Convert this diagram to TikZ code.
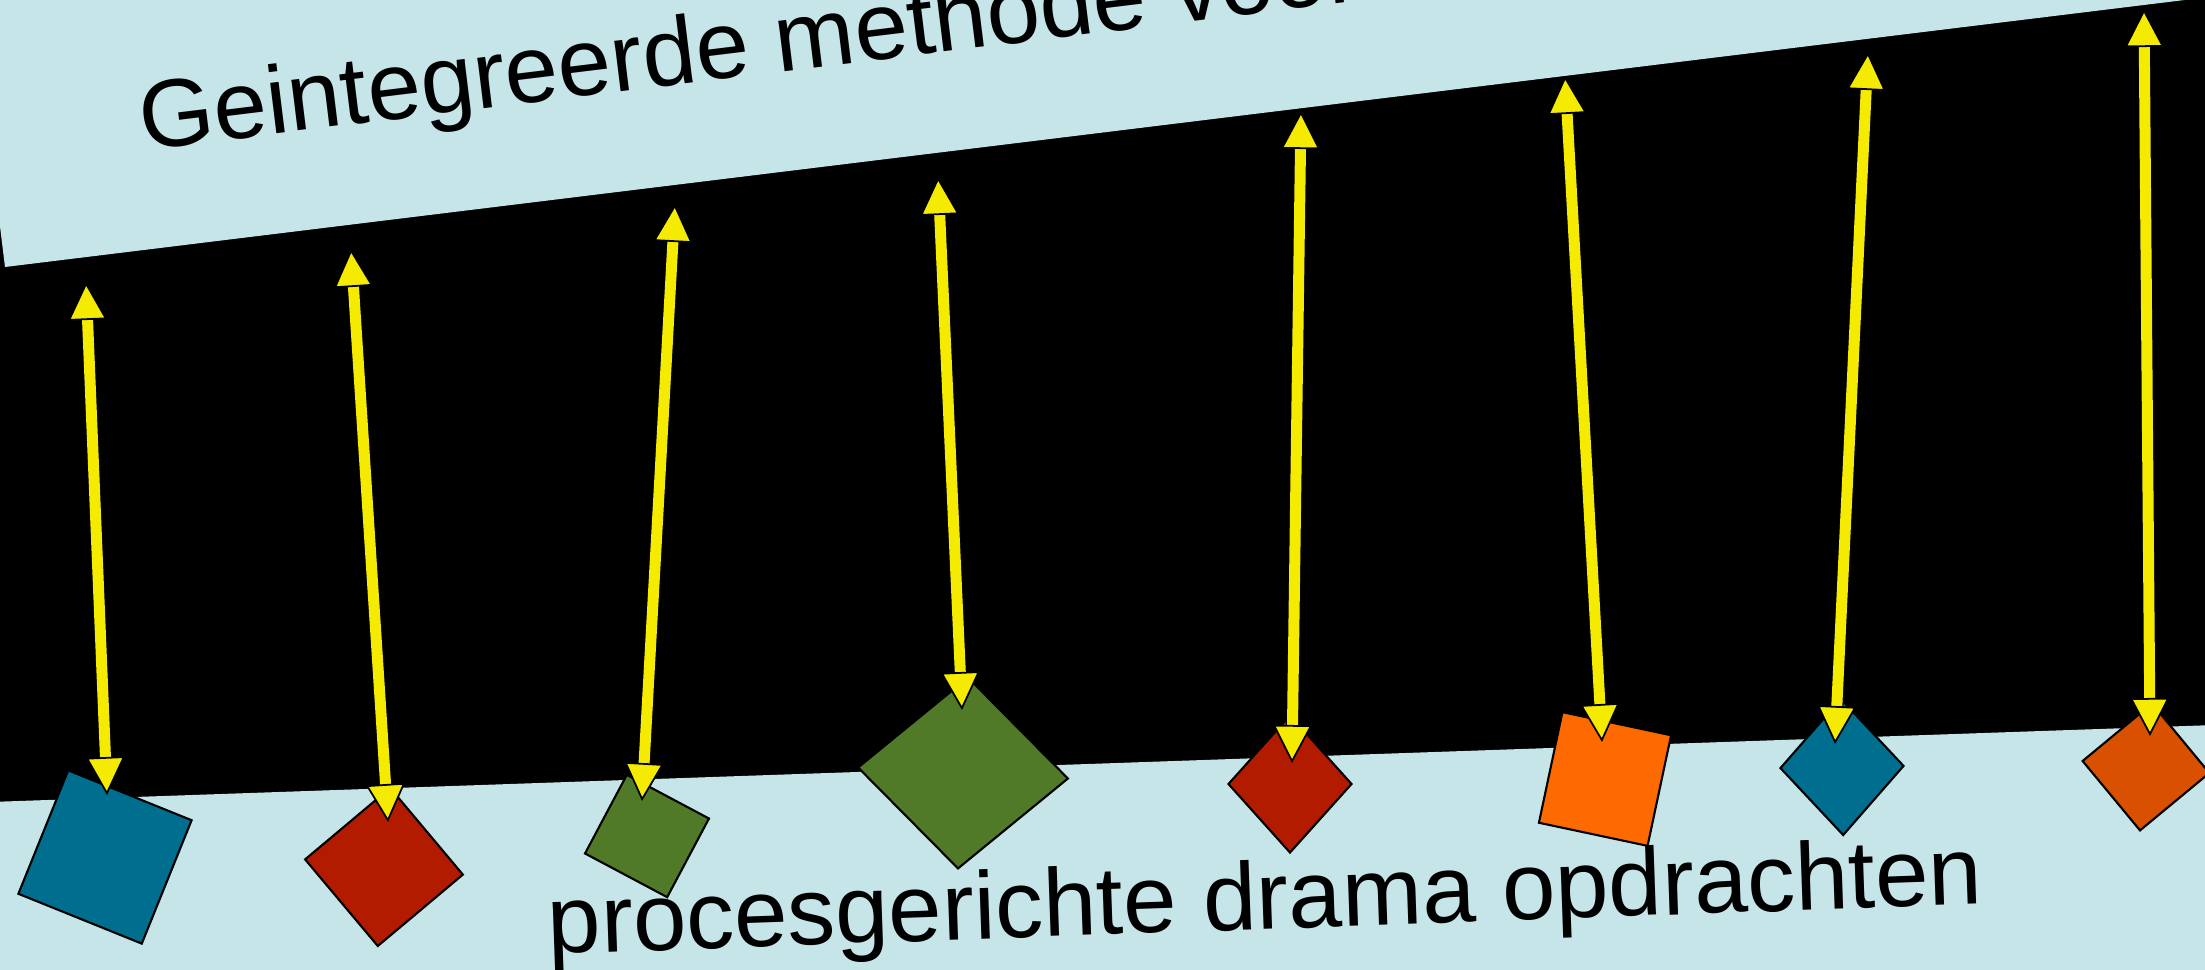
\documentclass[tikz,border=0pt]{standalone}
\usepackage{fontspec}
\setmainfont{Liberation Sans}
\usetikzlibrary{arrows.meta,shapes.geometric}

\definecolor{bandblue}{RGB}{198,229,233}
\definecolor{linkyellow}{RGB}{245,235,0}
\definecolor{tileblue}{RGB}{0,110,143}
\definecolor{tilered}{RGB}{178,27,0}
\definecolor{tilegreen}{RGB}{80,122,40}
\definecolor{tileorange}{RGB}{255,106,0}
\definecolor{tilerust}{RGB}{217,81,0}

\tikzset{
  tile/.style={draw=black, line width=0.6pt, inner sep=0pt, outer sep=0pt},
  gem/.style={tile, diamond},
  linkhead/.tip={Triangle[length=0.38cm, width=0.39cm, line width=0.5pt, color=black, fill=linkyellow]},
  link/.style={draw=linkyellow, line width=0.11cm, {linkhead}-{linkhead},
    preaction={draw=black, line width=0.135cm, -, shorten <=0.3cm, shorten >=0.3cm}},
  caption/.style={inner sep=0pt, text=black, font=\fontsize{27.3pt}{32pt}\selectfont},
}

\begin{document}
\begin{tikzpicture}[x=0.01cm, y=-0.01cm]

\useasboundingbox (0,0) rectangle (2205,970);
\clip (0,0) rectangle (2205,970);

% black middle and the two pale bands
\fill[black] (0,0) rectangle (2205,970);
\fill[bandblue] (5,267) -- (2250,-8) -- (2250,-50) -- (-34,-50) -- cycle;
\fill[bandblue] (-10,802) -- (2215,725) -- (2215,980) -- (-10,980) -- cycle;

% Tiles (rotated squares)
\node[tile, fill=tileblue, minimum width=1.33cm, minimum height=1.33cm, rotate=-22] (s1) at (105,857) {};
\node[tile, fill=tilered, minimum width=1.11cm, minimum height=1.13cm, rotate=40] (s2) at (384,867) {};
\node[tile, fill=tilegreen, minimum width=0.93cm, minimum height=0.89cm, rotate=-28] (s3) at (647,836) {};
\node[gem, fill=tilegreen, minimum width=2.10cm, minimum height=1.91cm, rotate=-3] (s4) at (963,773) {};
\node[gem, fill=tilered, minimum width=1.23cm, minimum height=1.37cm] (s5) at (1290,784) {};
\node[tile, fill=tileorange, minimum width=1.11cm, minimum height=1.13cm, rotate=-12] (s6) at (1605,779) {};
\node[gem, fill=tileblue, minimum width=1.23cm, minimum height=1.36cm, rotate=1] (s7) at (1842,767) {};
\node[tile, fill=tilerust, minimum width=0.90cm, minimum height=0.90cm, rotate=39.6] (s8) at (2146,767) {};

% arrow ends: top row under the upper band, bottom row on the tiles
\coordinate (t1) at (86,282);    \coordinate (b1) at (107,795);
\coordinate (t2) at (351,249);   \coordinate (b2) at (388,822);
\coordinate (t3) at (675,204);   \coordinate (b3) at (642,801);
\coordinate (t4) at (938,177);   \coordinate (b4) at (962,710);
\coordinate (t5) at (1301,111);  \coordinate (b5) at (1292,763);
\coordinate (t6) at (1565,76);   \coordinate (b6) at (1602,742);
\coordinate (t7) at (1868,52);   \coordinate (b7) at (1835,744);
\coordinate (t8) at (2144,9);    \coordinate (b8) at (2150,736);

% double arrows
\draw[link] (t1) -- (b1);
\draw[link] (t2) -- (b2);
\draw[link] (t3) -- (b3);
\draw[link] (t4) -- (b4);
\draw[link] (t5) -- (b5);
\draw[link] (t6) -- (b6);
\draw[link] (t7) -- (b7);
\draw[link] (t8) -- (b8);

% texts
\node[caption, anchor=base west, rotate=7] (title) at (142.8,150.2) {Geintegreerde methode voor};
\node[caption, anchor=base west, rotate=2] (subtitle) at (548,954) {procesgerichte drama opdrachten};

\end{tikzpicture}
\end{document}
